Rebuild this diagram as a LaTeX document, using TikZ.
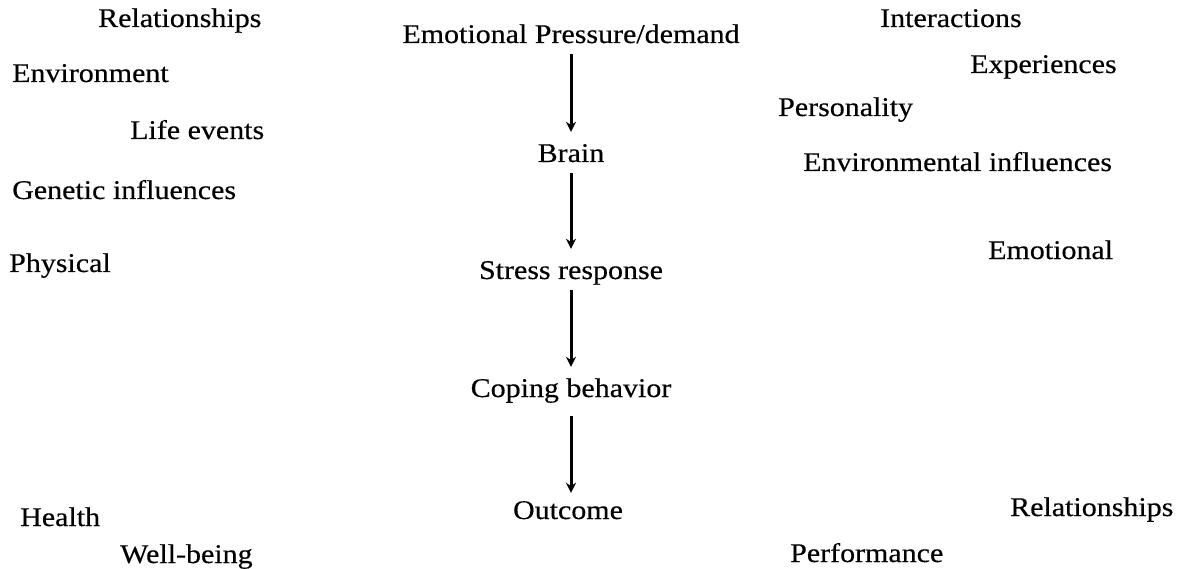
\documentclass[tikz,border=0pt]{standalone}
\usepackage{fontspec}
\setmainfont[FakeStretch=1.11,FakeBold=0.4]{Liberation Serif}
\usetikzlibrary{arrows.meta}

\tikzset{
	lbl/.style={anchor=base west, inner sep=2pt, font=\fontsize{27}{32}\selectfont},
	step box/.style={anchor=base, inner sep=2pt, text height=19pt, text depth=6.5pt, font=\fontsize{27}{32}\selectfont},
	flow/.style={line width=3pt, -{Stealth[length=10pt,width=10pt]}, shorten <=2.5pt, shorten >=9pt}
}

\begin{document}
\begin{tikzpicture}[x=1pt,y=-1pt]
		\useasboundingbox (0,0) rectangle (1177,569);
%		\draw[help lines,step=50] (0,0) grid (1177,569);

		% middle column
		\node[step box] (pressure) at (571,43) {Emotional Pressure/demand};
		\node[step box] (brain) at (571,162) {Brain};
		\node[step box] (stress) at (571,279) {Stress response};
		\node[step box] (coping) at (571,397) {Coping behavior};
		\node[step box] (outcome) at (568,519) {Outcome};

		\draw[flow] (pressure) -- (brain);
		\draw[flow] (brain) -- (stress);
		\draw[flow] (stress) -- (coping);
		\draw[flow,shorten <=10pt,shorten >=5pt] (coping.south) -- (coping.south |- outcome.north);

		% left side
		\node[lbl] (relleft) at (96,27) {Relationships};
		\node[lbl] (environment) at (10,82) {Environment};
		\node[lbl] (lifeevents) at (128,139) {Life events};
		\node[lbl] (genetic) at (10,199) {Genetic influences};
		\node[lbl] (physical) at (7,272) {Physical};
		\node[lbl] (health) at (18,526) {Health};
		\node[lbl] (wellbeing) at (118,563) {Well-being};

		% right side
		\node[lbl] (interactions) at (878,27) {Interactions};
		\node[lbl] (experiences) at (968,73) {Experiences};
		\node[lbl] (personality) at (776,116) {Personality};
		\node[lbl] (envinfl) at (801,171) {Environmental influences};
		\node[lbl] (emotional) at (986,259) {Emotional};
		\node[lbl] (relright) at (1008,516) {Relationships};
		\node[lbl] (performance) at (788,562) {Performance};
\end{tikzpicture}
\end{document}
